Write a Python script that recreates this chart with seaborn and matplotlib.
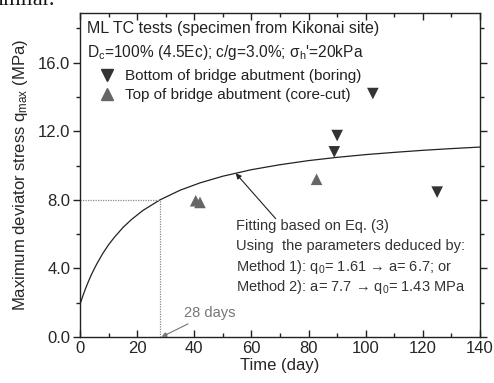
import numpy as np
import pandas as pd
import matplotlib
matplotlib.use("Agg")
import matplotlib.pyplot as plt
import seaborn as sns

# Measured peak strengths
boring_days = [90, 89, 102.5, 125]
boring_qmax = [11.75, 10.8, 14.2, 8.45]
core_days = [40.5, 42, 82.8]
core_qmax = [7.95, 7.85, 9.2]

# Fitted strength-development curve (Eq. 3)
fit_days = [0, 1, 2, 3, 4, 5, 6, 8, 10, 12, 15, 18, 22, 28, 35, 42, 50, 60,
            70, 80, 90, 100, 110, 120, 130, 140]
fit_qmax = [1.9, 2.40, 2.85, 3.26, 3.64, 3.98, 4.30, 4.88, 5.38, 5.81, 6.38,
            6.85, 7.38, 8.00, 8.56, 8.99, 9.38, 9.76, 10.05, 10.29, 10.48,
            10.64, 10.77, 10.89, 10.99, 11.08]

x_ticks = [0, 20, 40, 60, 80, 100, 120, 140]
y_ticks = [0.0, 4.0, 8.0, 12.0, 16.0]
ref_day, ref_q = 28, 8.0

sns.set_theme(style="ticks")
plt.rcParams["font.family"] = ["Liberation Sans", "DejaVu Sans"]
plt.rcParams["mathtext.fontset"] = "custom"
plt.rcParams["mathtext.rm"] = "Liberation Sans"
plt.rcParams["mathtext.it"] = "Liberation Sans"

fig = plt.figure(figsize=(4.94, 3.83), dpi=100)
ax = fig.add_axes([80 / 494, 46 / 383, 400 / 494, 324 / 383])

df_b = pd.DataFrame({"t": boring_days, "q": boring_qmax})
df_c = pd.DataFrame({"t": core_days, "q": core_qmax})
df_f = pd.DataFrame({"t": fit_days, "q": fit_qmax})

sns.lineplot(data=df_f, x="t", y="q", ax=ax, color="#222222", lw=0.9,
             estimator=None, sort=False)
sns.scatterplot(data=df_b, x="t", y="q", ax=ax, marker="v", s=70,
                color="#333333", edgecolor="none", zorder=3)
sns.scatterplot(data=df_c, x="t", y="q", ax=ax, marker="^", s=70,
                color="#666666", edgecolor="none", zorder=3)

# 28-day reference guides
ax.plot([0, ref_day], [ref_q, ref_q], ls=(0, (1, 1)), color="#888888", lw=0.9)
ax.plot([ref_day, ref_day], [0, ref_q], ls=(0, (1, 1)), color="#888888", lw=0.9)

ax.set_xlim(0, 140)
ax.set_ylim(0, 18.9)
ax.set_xticks(x_ticks)
ax.set_xticklabels([str(v) for v in x_ticks])
ax.set_yticks(y_ticks)
ax.set_yticklabels([f"{v:.1f}" for v in y_ticks])
ax.set_xticks(np.arange(10, 140, 20), minor=True)
ax.set_yticks(np.arange(2, 19, 4), minor=True)

for s in ax.spines.values():
    s.set_linewidth(1.0)
    s.set_color("#222222")
ax.tick_params(axis="x", which="both", direction="in", top=True,
               labelsize=12, pad=3, color="#222222")
ax.tick_params(axis="y", which="both", direction="in", right=True,
               labelsize=12, pad=2, color="#222222")
ax.tick_params(axis="y", which="both", left=True, direction="out")
ax.tick_params(which="major", length=5, width=1.0)
ax.tick_params(which="minor", length=3, width=1.0)

ax.set_xlabel("Time (day)", fontsize=12, labelpad=1)
ax.set_ylabel(r"Maximum deviator stress q$_\mathrm{max}$ (MPa)", fontsize=12,
              labelpad=6)

# Header and legend
ax.text(7 / 400, 1 - 16 / 324, "ML TC tests (specimen from Kikonai site)",
        transform=ax.transAxes, fontsize=11.5, va="center", ha="left",
        color="#222222")
ax.text(7 / 400, 1 - 40 / 324,
        r"D$_\mathrm{c}$=100% (4.5Ec); c/g=3.0%; σ$_\mathrm{h}$'=20kPa",
        transform=ax.transAxes, fontsize=11.2, va="center", ha="left",
        color="#222222")
h_b = plt.Line2D([], [], marker="v", ls="none", color="#333333", ms=8)
h_c = plt.Line2D([], [], marker="^", ls="none", color="#666666", ms=8)
ax.legend([h_b, h_c], ["Bottom of bridge abutment (boring)",
                       "Top of bridge abutment (core-cut)"],
          loc="upper left", bbox_to_anchor=(0.03, 0.845), frameon=False,
          fontsize=11, handletextpad=0.55, labelspacing=0.3,
          borderaxespad=0, handlelength=1.2, labelcolor="#222222")

# Fit annotation
ax.annotate("", xy=(54.5, 9.55), xytext=(68.5, 6.9),
            arrowprops=dict(arrowstyle="-|>", color="#222222", lw=0.8,
                            mutation_scale=8, shrinkA=0, shrinkB=0))
fit_lines = ["Fitting based on Eq. (3)",
             "Using  the parameters deduced by:",
             r"Method 1): q$_\mathrm{0}$= 1.61 → a= 6.7; or",
             r"Method 2): a= 7.7 → q$_\mathrm{0}$= 1.43 MPa"]
for i, line in enumerate(fit_lines):
    ax.text(54.5, 6.45 - i * 1.17, line, fontsize=10.5, va="center",
            ha="left", color="#333333")

ax.annotate("28 days", xy=(ref_day + 0.5, 0), xytext=(36.5, 1.4),
            fontsize=10.5, color="#777777", va="center", ha="left",
            arrowprops=dict(arrowstyle="-|>", color="#777777", lw=0.8,
                            mutation_scale=7, shrinkA=1, shrinkB=0))

fig.text(-0.005, 0.999, "imilar.", fontsize=16, family="Liberation Serif",
         va="center", ha="left", color="#111111")

fig.savefig("out.png", dpi=100)
